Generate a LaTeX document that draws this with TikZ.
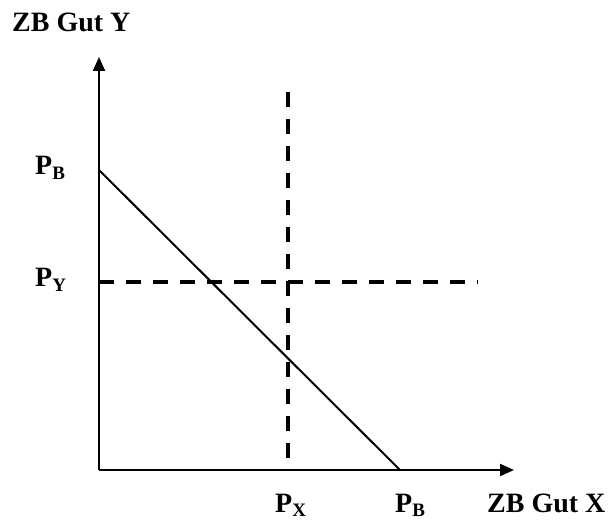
\documentclass[tikz,border=0pt]{standalone}
\usepackage{fontspec}
\setmainfont{Liberation Serif}
\usetikzlibrary{arrows.meta}
\newcommand{\lowidx}[1]{\raisebox{-4.5pt}{\fontsize{19}{19}\selectfont #1}}

\begin{document}
\begin{tikzpicture}[x=1pt, y=-1pt,
  every node/.style={font=\fontsize{28}{30}\selectfont\bfseries, inner sep=0pt, anchor=base west},
  axis/.style={line width=2.2pt, -{Triangle[length=14pt, width=12pt]}},
  guide/.style={line width=4pt, dash pattern=on 15pt off 12pt},
  budget/.style={line width=2pt}]
  \useasboundingbox (0,0) rectangle (611,521);
  % axes
  \coordinate (O) at (99,470);
  \coordinate (ytip) at (99,57);
  \coordinate (xtip) at (514,470);
  \draw[axis] (O) -- (ytip);
  \draw[axis] (O) -- (xtip);
  % budget line and price guides
  \coordinate (bY) at (99,170);
  \coordinate (bX) at (400,470);
  \draw[budget] (bY) -- (bX);
  \coordinate (pyA) at (99,282);
  \coordinate (pyB) at (478,282);
  \coordinate (pxA) at (288,92);
  \coordinate (pxB) at (288,470);
  \draw[guide] (pyA) -- (pyB);
  \draw[guide] (pxA) -- (pxB);
  % labels
  \node (lblY) at (12,32) {ZB Gut Y};
  \node (lblPB) at (35,175) {P\lowidx{B}};
  \node (lblPY) at (35,287) {P\lowidx{Y}};
  \node (lblPX) at (275,512) {P\lowidx{X}};
  \node (lblPBx) at (395,512) {P\lowidx{B}};
  \node (lblX) at (487,512) {ZB Gut X};
\end{tikzpicture}
\end{document}
